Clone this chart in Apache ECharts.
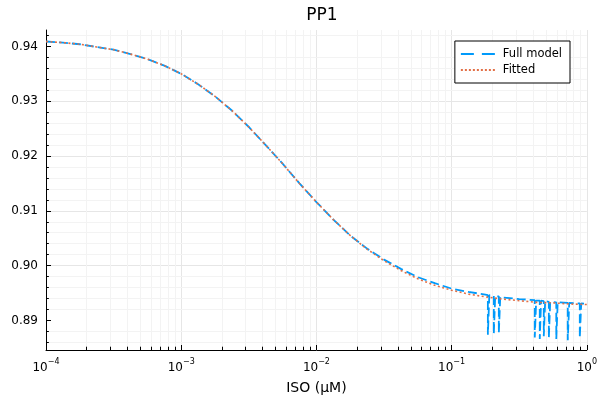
<!DOCTYPE html>
<html>
<head>
<meta charset="utf-8">
<script src="https://cdn.jsdelivr.net/npm/echarts@6/dist/echarts.min.js"></script>
<style>
html, body { margin: 0; padding: 0; background: #fff; }
#chart { width: 600px; height: 400px; }
</style>
</head>
<body>
<div id="chart"></div>
<script>
// values (ISO in uM, log axis)
const isoFit = [1e-4, 1.334e-4, 1.778e-4, 2.371e-4, 3.162e-4, 4.217e-4, 5.623e-4, 7.499e-4,
    1e-3, 1.334e-3, 1.778e-3, 2.371e-3, 3.162e-3, 4.217e-3, 5.623e-3, 7.499e-3,
    1e-2, 1.334e-2, 1.778e-2, 2.371e-2, 3.162e-2, 4.217e-2, 5.623e-2, 7.499e-2,
    0.1, 0.1334, 0.1778, 0.2371, 0.3162, 0.4217, 0.5623, 0.7499, 1];
const ppFit = [0.9409, 0.9407, 0.9404, 0.9399, 0.9394, 0.9386, 0.9377, 0.9365,
    0.9350, 0.9331, 0.9309, 0.9283, 0.9253, 0.9220, 0.9186, 0.9150,
    0.9116, 0.9084, 0.9055, 0.9030, 0.9009, 0.8991, 0.8976, 0.8964,
    0.8955, 0.8948, 0.8943, 0.8939, 0.8936, 0.8933, 0.8932, 0.8930, 0.8929];

// full model, with the solver glitches near the top of the range
const isoFull = [1e-4, 1.334e-4, 1.778e-4, 2.371e-4, 3.162e-4, 4.217e-4, 5.623e-4, 7.499e-4,
    1e-3, 1.334e-3, 1.778e-3, 2.371e-3, 3.162e-3, 4.217e-3, 5.623e-3, 7.499e-3,
    1e-2, 1.334e-2, 1.778e-2, 2.371e-2, 3.162e-2, 4.217e-2, 5.623e-2, 7.499e-2,
    0.1, 0.1334, 0.1778,
    0.1854, 0.1854, 0.190,
    0.2051, 0.2051, 0.210,
    0.2234, 0.2234, 0.229,
    0.2371, 0.3162,
    0.4121, 0.4121, 0.422,
    0.4487, 0.4487, 0.459,
    0.4804, 0.4804, 0.492,
    0.5236, 0.5236, 0.536,
    0.5943, 0.5943, 0.609,
    0.7228, 0.7228, 0.741,
    0.887, 0.887, 0.909,
    1];
const ppFull = [0.9409, 0.9407, 0.9404, 0.9399, 0.9394, 0.9386, 0.9377, 0.9365,
    0.9350, 0.9331, 0.9309, 0.9283, 0.9253, 0.9220, 0.9186, 0.9150,
    0.9116, 0.9084, 0.9055, 0.9031, 0.9011, 0.8994, 0.8979, 0.8968,
    0.8958, 0.8952, 0.8947,
    0.8946, 0.8874, 0.8946,
    0.8945, 0.8875, 0.8944,
    0.8944, 0.8877, 0.8943,
    0.8942, 0.8939,
    0.8937, 0.8869, 0.8936,
    0.8936, 0.8866, 0.8936,
    0.8935, 0.8871, 0.8935,
    0.8934, 0.8868, 0.8934,
    0.8933, 0.8866, 0.8933,
    0.8932, 0.8864, 0.8932,
    0.8931, 0.8868, 0.8931,
    0.8930];

const yMajorTicks = [0.89, 0.90, 0.91, 0.92, 0.93, 0.94];
const yMinorTicks = [0.886, 0.888, 0.892, 0.894, 0.896, 0.898, 0.902, 0.904, 0.906, 0.908,
    0.912, 0.914, 0.916, 0.918, 0.922, 0.924, 0.926, 0.928, 0.932, 0.934, 0.936, 0.938, 0.942];
const xMinorTicks = [2e-4, 3e-4, 4e-4, 5e-4, 6e-4, 7e-4, 8e-4, 9e-4,
    2e-3, 3e-3, 4e-3, 5e-3, 6e-3, 7e-3, 8e-3, 9e-3,
    2e-2, 3e-2, 4e-2, 5e-2, 6e-2, 7e-2, 8e-2, 9e-2,
    0.2, 0.3, 0.4, 0.5, 0.6, 0.7, 0.8, 0.9];

const xMin = 1e-4, xMax = 1, yMin = 0.8846, yMax = 0.943;
const font = 'DejaVu Sans';

// legend samples: two dashes / a row of dots
const dashIcon = 'path://M0,0h13v2h-13zM21,0h13v2h-13z';
const dotIcon = 'path://M0,0h2v2h-2zM4,0h2v2h-2zM8,0h2v2h-2zM12,0h2v2h-2zM16,0h2v2h-2zM20,0h2v2h-2zM24,0h2v2h-2zM28,0h2v2h-2zM32,0h2v2h-2z';

// minor grid and minor ticks (log axis minor ticks are not usable in echarts)
const guides = [];
xMinorTicks.forEach(v => {
    guides.push([{coord: [v, yMin], lineStyle: {color: '#f3f3f3', width: 1, type: 'solid'}}, {coord: [v, yMax]}]);
    guides.push([{coord: [v, yMin], lineStyle: {color: '#000', width: 1, type: 'solid'}}, {coord: [v, yMin + 0.0006]}]);
});
yMinorTicks.forEach(v => {
    guides.push([{coord: [xMin, v], lineStyle: {color: '#f3f3f3', width: 1, type: 'solid'}}, {coord: [xMax, v]}]);
    guides.push([{coord: [xMin, v], lineStyle: {color: '#000', width: 1, type: 'solid'}}, {coord: [1.05e-4, v]}]);
});

const chart = echarts.init(document.getElementById('chart'));
chart.setOption({
    animation: false,
    backgroundColor: '#fff',
    title: {
        text: 'PP1',
        left: 317,
        top: 2,
        textAlign: 'center',
        textStyle: {fontFamily: font, fontSize: 17, fontWeight: 'normal', color: '#000'}
    },
    legend: {
        data: [{name: 'Full model', icon: dashIcon}, {name: 'Fitted', icon: dotIcon}],
        orient: 'vertical',
        right: 30,
        top: 41,
        padding: [7, 8, 7, 6],
        itemGap: 4,
        itemWidth: 34,
        itemHeight: 2,
        borderColor: '#000',
        borderWidth: 1,
        borderRadius: 0,
        backgroundColor: '#fff',
        textStyle: {fontFamily: font, fontSize: 11.5, color: '#000', padding: [0, 0, 0, 3]}
    },
    grid: {left: 46, right: 12, top: 30, bottom: 47},
    xAxis: {
        type: 'log',
        logBase: 10,
        min: xMin,
        max: xMax,
        name: 'ISO (μM)',
        nameLocation: 'middle',
        nameGap: 31,
        nameTextStyle: {fontFamily: font, fontSize: 14, color: '#000'},
        axisLine: {lineStyle: {color: '#000', width: 1}},
        axisTick: {inside: true, length: 5, lineStyle: {color: '#000'}},
        axisLabel: {
            margin: 8,
            fontFamily: font,
            color: '#000',
            formatter: v => '{b|10}{s|' + String(Math.round(Math.log10(v))).replace('-', '\u2212') + '}',
            rich: {
                b: {fontFamily: font, fontSize: 12, color: '#000', verticalAlign: 'bottom', lineHeight: 16},
                s: {fontFamily: font, fontSize: 8, color: '#000', verticalAlign: 'top', lineHeight: 16, padding: [0, 0, 8, 0]}
            }
        },
        splitLine: {show: true, lineStyle: {color: '#e6e6e6', width: 1}}
    },
    yAxis: {
        type: 'value',
        min: yMin,
        max: yMax,
        splitNumber: 6,
        axisLine: {show: true, lineStyle: {color: '#000', width: 1}},
        axisTick: {show: true, inside: true, length: 5, lineStyle: {color: '#000'}, customValues: yMajorTicks},
        axisLabel: {
            margin: 8,
            fontFamily: font,
            fontSize: 12,
            color: '#000',
            customValues: yMajorTicks,
            formatter: v => v.toFixed(2)
        },
        splitLine: {show: true, showMinLine: false, showMaxLine: false, lineStyle: {color: '#e6e6e6', width: 1}}
    },
    series: [
        {
            name: 'guides',
            type: 'line',
            data: [],
            silent: true,
            z: 1,
            markLine: {
                silent: true,
                z: 1,
                symbol: ['none', 'none'],
                label: {show: false},
                emphasis: {disabled: true},
                animation: false,
                data: guides
            }
        },
        {
            name: 'Full model',
            type: 'line',
            data: isoFull.map((x, i) => [x, ppFull[i]]),
            showSymbol: false,
            symbol: 'none',
            z: 3,
            color: '#009AFA',
            lineStyle: {color: '#009AFA', width: 1.8, type: [9, 4]}
        },
        {
            name: 'Fitted',
            type: 'line',
            data: isoFit.map((x, i) => [x, ppFit[i]]),
            showSymbol: false,
            symbol: 'none',
            z: 4,
            color: '#E26F46',
            lineStyle: {color: '#E26F46', width: 1.6, type: [2, 2.5]}
        }
    ]
});
</script>
</body>
</html>
